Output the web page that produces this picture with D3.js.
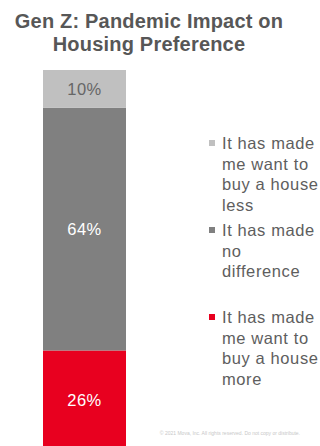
<!DOCTYPE html>
<html>
<head>
<meta charset="utf-8">
<script src="https://cdn.jsdelivr.net/npm/d3@7"></script>
<style>
  html, body { margin: 0; padding: 0; background: #fff; }
  svg { display: block; }
</style>
</head>
<body>
<svg id="chart" width="320" height="446"></svg>
<script>
// Responses, stacked bottom to top
const categories = ["more", "same", "less"];
const values = [26, 64, 10];
const valueLabels = ["26%", "64%", "10%"];
const legendLines = [
  ["It has made", "me want to", "buy a house", "less"],
  ["It has made", "no", "difference"],
  ["It has made", "me want to", "buy a house", "more"]
];
const legendKeys = ["less", "same", "more"];
const colors = { more: "#e8001f", same: "#808080", less: "#c0c0c0" };
const labelColors = { more: "#ffffff", same: "#ffffff", less: "#666666" };

const svg = d3.select("#chart");
const font = "'Liberation Sans', Arial, sans-serif";

// Title
svg.append("g").selectAll("text")
  .data(["Gen Z:  Pandemic Impact on", "Housing Preference"])
  .join("text")
  .attr("x", 149)
  .attr("y", (d, i) => 28 + i * 23)
  .attr("text-anchor", "middle")
  .attr("font-family", font)
  .attr("font-weight", "bold")
  .attr("font-size", 20)
  .attr("letter-spacing", 0.2)
  .attr("fill", "#575757")
  .text(d => d);

// Stack layout
const row = {};
categories.forEach((c, i) => row[c] = values[i]);
const series = d3.stack().keys(categories)([row]);

const y = d3.scaleLinear().domain([0, 100]).range([449, 70]);
const x = d3.scaleBand().domain(["Gen Z"]).range([43, 126]).padding(0);

const seg = svg.append("g").selectAll("g")
  .data(series)
  .join("g");

seg.append("rect")
  .attr("x", x("Gen Z"))
  .attr("width", x.bandwidth())
  .attr("y", d => y(d[0][1]))
  .attr("height", d => y(d[0][0]) - y(d[0][1]))
  .attr("fill", d => colors[d.key]);

seg.append("text")
  .attr("x", x("Gen Z") + x.bandwidth() / 2)
  .attr("y", d => (y(d[0][0]) + y(d[0][1])) / 2)
  .attr("dy", "0.36em")
  .attr("text-anchor", "middle")
  .attr("font-family", font)
  .attr("font-size", 16.5)
  .attr("letter-spacing", 0.5)
  .attr("fill", d => labelColors[d.key])
  .text((d, i) => valueLabels[i]);

// Legend
const legendTop = [143, 230, 317];
const lineH = 20.7;
const lg = svg.append("g").selectAll("g")
  .data(legendKeys)
  .join("g")
  .attr("transform", (d, i) => `translate(0,${legendTop[i]})`);

lg.append("rect")
  .attr("x", 209)
  .attr("y", -3)
  .attr("width", 6)
  .attr("height", 6)
  .attr("fill", d => colors[d]);

lg.each(function(d, i) {
  d3.select(this).selectAll("text")
    .data(legendLines[i])
    .join("text")
    .attr("x", 222)
    .attr("y", (t, j) => j * lineH)
    .attr("dy", "0.36em")
    .attr("font-family", font)
    .attr("font-size", 16.5)
    .attr("letter-spacing", 0.6)
    .attr("fill", "#5e5e5e")
    .text(t => t);
});

// Footer
svg.append("text")
  .attr("x", 300)
  .attr("y", 435)
  .attr("text-anchor", "end")
  .attr("font-family", font)
  .attr("font-size", 5)
  .attr("fill", "#c8c8c8")
  .text("© 2021 Mova, Inc. All rights reserved. Do not copy or distribute.");
</script>
</body>
</html>
